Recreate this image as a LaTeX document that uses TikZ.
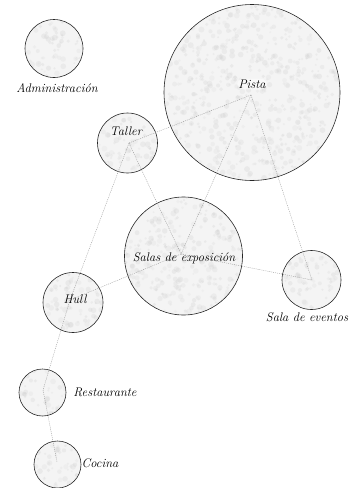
\documentclass[tikz,border=0pt]{standalone}
\usepackage{fontspec}
\newcommand\mottlespots[4]{% x y r count
  \begin{scope}
    \clip (#1,#2) circle ({#3-0.7});
    \foreach \i in {1,...,#4}{
      \pgfmathsetmacro\ra{(#3+2)*sqrt(rnd)}
      \pgfmathsetmacro\an{360*rnd}
      \pgfmathsetmacro\sz{1.0+2.0*rnd}
      \pgfmathsetmacro\sh{14+10*rnd}
      \fill[black!\sh, opacity=0.22] ([shift={(\an:\ra)}]#1,#2) circle (\sz);
    }
  \end{scope}}
\begin{document}
\begin{tikzpicture}[x=1pt,y=-1pt,
  room/.style={circle, draw=black!85, line width=0.6pt, fill=gray!9, inner sep=0pt},
  conn/.style={draw=gray!80, line width=0.4pt, dash pattern=on 1pt off 1pt},
  lbl/.style={font=\fontsize{12.5}{14}\selectfont\itshape, inner sep=1pt}]
\pgfmathsetseed{7}
\useasboundingbox (0,0) rectangle (358,488);
% rooms
\node[room, minimum size=58pt] (admin) at (54,48.5) {};
\node[room, minimum size=176pt] (pista) at (252,92.5) {};
\node[room, minimum size=60pt] (taller) at (127.5,143) {};
\node[room, minimum size=118pt] (salas) at (183.5,256) {};
\node[room, minimum size=59pt] (eventos) at (311.5,280) {};
\node[room, minimum size=60pt] (hull) at (73,302.5) {};
\node[room, minimum size=47pt] (resta) at (42.5,392.5) {};
\node[room, minimum size=47pt] (cocina) at (57.5,464.5) {};
% texture
\mottlespots{54}{48.5}{29}{70}
\mottlespots{252}{92.5}{88}{600}
\mottlespots{127.5}{143}{30}{70}
\mottlespots{183.5}{256}{59}{280}
\mottlespots{311.5}{280}{29.5}{70}
\mottlespots{73}{302.5}{30}{70}
\mottlespots{42.5}{392.5}{23.5}{45}
\mottlespots{57.5}{464.5}{23.5}{45}
% hubs
\coordinate (pistah) at (251,95);
\coordinate (tallerh) at (129,143);
\coordinate (salash) at (181,254);
\coordinate (eventosh) at (312,280);
\coordinate (hullh) at (70,300);
\coordinate (restah) at (43,390);
\coordinate (cocinah) at (57,462);
% connectors
\draw[conn] (pistah) -- (tallerh);
\draw[conn] (pistah) -- (salash);
\draw[conn] (pistah) -- (eventosh);
\draw[conn] (tallerh) -- (salash);
\draw[conn] (tallerh) -- (hullh);
\draw[conn] (salash) -- (eventosh);
\draw[conn] (salash) -- (hullh);
\draw[conn] (hullh) -- (restah);
\draw[conn] (restah) -- (cocinah);
% labels
\node[lbl] (ladmin) at (57,88) {Administración};
\node[lbl, fill=white, fill opacity=0.5, text opacity=1, rounded corners=6pt] (lpista) at (252,84) {Pista};
\node[lbl] (ltaller) at (126,131) {Taller};
\node[lbl] (lsalas) at (184,258) {Salas de exposición};
\node[lbl] (leventos) at (307,317) {Sala de eventos};
\node[lbl] (lhull) at (75,299) {Hull};
\node[lbl] (lresta) at (105,392) {Restaurante};
\node[lbl] (lcocina) at (100,463) {Cocina};
\end{tikzpicture}
\end{document}
